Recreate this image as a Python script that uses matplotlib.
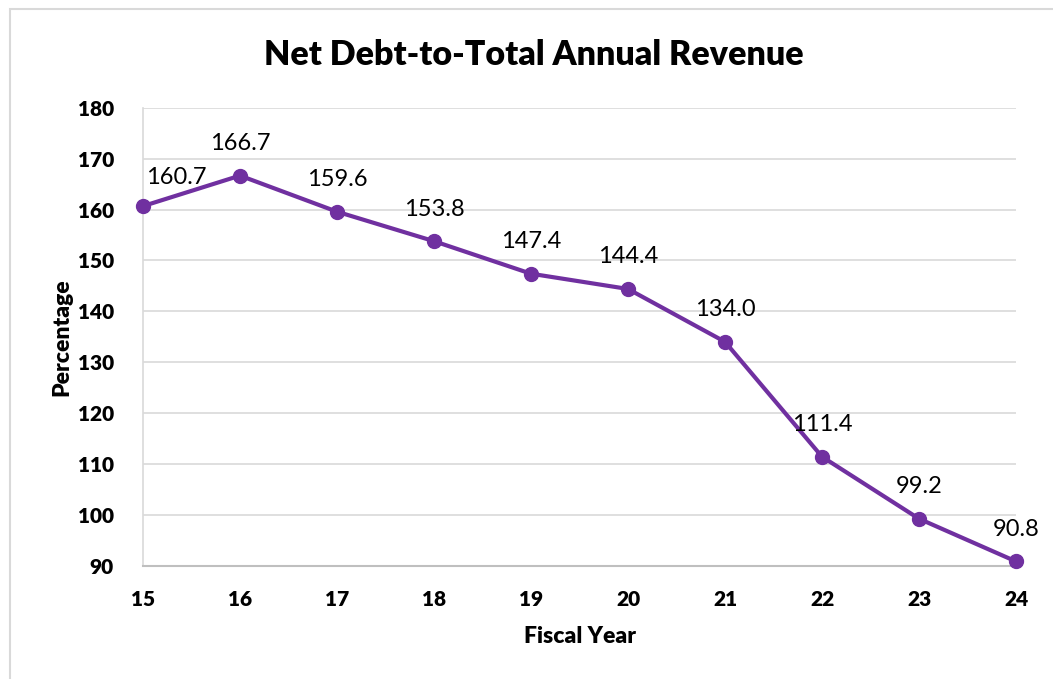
import matplotlib
matplotlib.use("Agg")
import matplotlib.pyplot as plt
from matplotlib.patches import Rectangle

years = [15, 16, 17, 18, 19, 20, 21, 22, 23, 24]
values = [160.7, 166.7, 159.6, 153.8, 147.4, 144.4, 134.0, 111.4, 99.2, 90.8]
yticks = [90, 100, 110, 120, 130, 140, 150, 160, 170, 180]
title = "Net Debt-to-Total Annual Revenue"
xlabel = "Fiscal Year"
ylabel = "Percentage"

W, H = 1053, 679
fig = plt.figure(figsize=(W / 100, H / 100), dpi=100)
plt.rcParams['font.family'] = ['Lato', 'DejaVu Sans']

# chart border
fig.patches.append(Rectangle((10 / W, -0.05), (W - 10 + 5) / W, (H - 9) / H + 0.05,
                             transform=fig.transFigure, fill=False,
                             edgecolor='#d9d9d9', linewidth=1.5))

ax = fig.add_axes([143 / W, (H - 565.5) / H, (1016 - 143) / W, (565.5 - 108) / H])
color = '#7030A0'
ax.plot(years, values, color=color, linewidth=3, marker='o', markersize=10,
        clip_on=False, zorder=3)

ax.set_xlim(15, 24)
ax.set_ylim(90, 180)
ax.set_xticks(years)
ax.set_yticks(yticks)
ax.set_xticklabels([str(y) for y in years], fontsize=15, fontweight='heavy')
ax.set_yticklabels([str(v) for v in yticks], fontsize=15, fontweight='heavy')
ax.tick_params(axis='both', length=0)
ax.tick_params(axis='x', pad=18)
ax.tick_params(axis='y', pad=21)
ax.grid(axis='y', color='#d9d9d9', linewidth=1.2)
ax.set_axisbelow(True)
for s in ['top', 'right']:
    ax.spines[s].set_visible(False)
ax.spines['left'].set_color('#d9d9d9')
ax.spines['left'].set_linewidth(1.2)
ax.spines['bottom'].set_color('#bfbfbf')
ax.spines['bottom'].set_linewidth(1.5)

for i, (x, v) in enumerate(zip(years, values)):
    ha = 'center'
    dx = 0
    dy = 32
    if i == 0:
        dx = 33
        dy = 29
    ax.annotate(f"{v:.1f}", (x, v), xytext=(dx * 0.72, dy * 0.72),
                textcoords='offset points', ha=ha, va='center', fontsize=17,
                color='black')

ax.set_xlabel(xlabel, fontsize=16.5, fontweight='heavy', labelpad=12)
ax.set_ylabel(ylabel, fontsize=16.5, fontweight='heavy', va='center')
ax.yaxis.set_label_coords((62 - 143) / 873, (565.5 - 337) / 457.5)
fig.text(534 / W, 1 - 55 / H, title, ha='center', va='center', fontsize=24.5,
         fontweight='heavy')

fig.savefig('out.png', dpi=100)
